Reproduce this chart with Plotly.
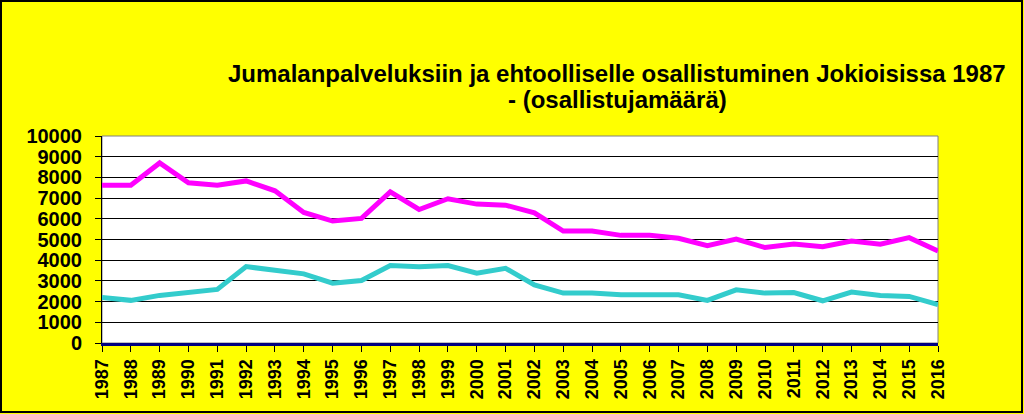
import plotly.graph_objects as go

years = list(range(1987, 2017))
jumalanpalvelukset = [7620, 7620, 8700, 7740, 7620, 7830, 7350, 6310, 5890, 6020,
                      7300, 6450, 6970, 6710, 6660, 6290, 5410, 5410, 5200, 5200,
                      5060, 4700, 5020, 4610, 4780, 4650, 4930, 4770, 5090, 4450]
ehtoollinen = [2200, 2060, 2300, 2440, 2590, 3690, 3530, 3340, 2890, 3020,
               3740, 3680, 3740, 3370, 3610, 2810, 2410, 2410, 2330, 2330,
               2330, 2060, 2570, 2410, 2440, 2040, 2460, 2300, 2250, 1850]
y_ticks = list(range(0, 10001, 1000))
title_lines = ["Jumalanpalveluksiin ja ehtoolliselle osallistuminen Jokioisissa 1987",
               "- (osallistujamäärä)"]

W, H = 1024, 414
L, R, T, B = 102, 86, 136, 71
pw = W - L - R
ph = H - T - B

fig = go.Figure()
fig.add_trace(go.Scatter(x=years, y=jumalanpalvelukset, mode="lines",
                         line=dict(color="#FF00FF", width=5), name="Jumalanpalvelukset"))
fig.add_trace(go.Scatter(x=years, y=ehtoollinen, mode="lines",
                         line=dict(color="#33CCCC", width=5), name="Ehtoollinen"))

# outer black frame of the chart
fig.add_shape(type="rect", xref="paper", yref="paper",
              x0=(1 - L) / pw, x1=(W - L - 2) / pw,
              y0=-(B - 2) / ph, y1=(H - B - 1) / ph,
              line=dict(color="black", width=2), fillcolor="rgba(0,0,0,0)", layer="above")
# grey plot-area border
fig.add_shape(type="rect", xref="paper", yref="paper", x0=0, x1=1, y0=0, y1=1,
              line=dict(color="#808080", width=1), layer="below")

title_centers_px = [73, 99]
for txt, yc in zip(title_lines, title_centers_px):
    fig.add_annotation(text="<b>%s</b>" % txt, xref="paper", yref="paper",
                       x=(617 - L) / pw, y=(H - B - yc) / ph,
                       xanchor="center", yanchor="middle", showarrow=False,
                       font=dict(size=24, color="black",
                                 family="Liberation Sans, Arial, sans-serif"))

fig.update_layout(
    width=W, height=H,
    margin=dict(l=L, r=R, t=T, b=B, pad=0),
    paper_bgcolor="#FFFF00", plot_bgcolor="white",
    showlegend=False,
    font=dict(family="Liberation Sans, Arial, sans-serif", color="black"),
    xaxis=dict(range=[1987, 2016], tickmode="array", tickvals=years,
               ticktext=["<b>%d</b>" % y for y in years], tickangle=-90,
               ticks="outside", ticklen=6, tickcolor="black", showgrid=False,
               showline=True, linecolor="#000080", linewidth=3, zeroline=False,
               tickfont=dict(size=18), automargin=False),
    yaxis=dict(range=[0, 10000], tickmode="array", tickvals=y_ticks,
               ticktext=["<b>%d</b>" % v for v in y_ticks],
               ticks="outside", ticklen=6, tickcolor="black",
               ticklabelstandoff=9,
               showgrid=True, gridcolor="black", gridwidth=1,
               showline=True, linecolor="black", linewidth=1, zeroline=False,
               tickfont=dict(size=20), automargin=False),
)

fig.write_html("out.html")
